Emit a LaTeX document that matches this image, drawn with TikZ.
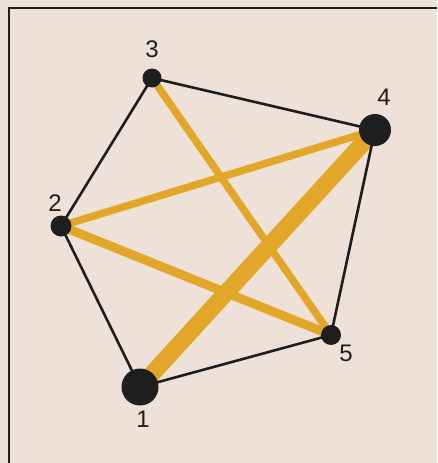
\documentclass[tikz,border=0pt]{standalone}
\usepackage{fontspec}
\setmainfont{Liberation Sans}
\definecolor{paper}{HTML}{EEE1D7}
\definecolor{amber}{HTML}{E2A628}
\definecolor{ink}{HTML}{1E1E1E}
\pgfdeclarelayer{back}
\pgfdeclarelayer{mid}
\pgfsetlayers{back,mid,main}
\begin{document}
\begin{tikzpicture}[x=1pt,y=-1pt,
  vtx/.style={circle,fill=ink,inner sep=0pt},
  lbl/.style={font=\fontsize{24}{24}\selectfont,text=ink,inner sep=0pt},
  rim/.style={draw=ink,line width=2.2pt},
  link/.style={draw=amber},
  side/.style={draw=ink,line width=2.6pt}]
\useasboundingbox (0,0) rectangle (437,463);
\begin{pgfonlayer}{back}
\fill[paper] (0,0) rectangle (437,463);
\end{pgfonlayer}
\coordinate (fa) at (437,8);
\coordinate (fb) at (9,8);
\coordinate (fc) at (9,463);
\draw[rim] (fa) -- (fb) -- (fc);
\node[vtx,minimum size=37pt] (n1) at (140,387) {};
\node[vtx,minimum size=21pt] (n2) at (61,226) {};
\node[vtx,minimum size=19pt] (n3) at (152,78) {};
\node[vtx,minimum size=32pt] (n4) at (375,130) {};
\node[vtx,minimum size=20pt] (n5) at (331,335) {};
\node[lbl] (t1) at (143,419) {1};
\node[lbl] (t2) at (55,203) {2};
\node[lbl] (t3) at (152,49) {3};
\node[lbl] (t4) at (384,97) {4};
\node[lbl] (t5) at (346,353) {5};
\begin{pgfonlayer}{mid}
\draw[link,line width=7.5pt] (n3.center) -- (n5.center);
\draw[link,line width=7.5pt] (n2.center) -- (n4.center);
\draw[link,line width=9pt] (n2.center) -- (n5.center);
\draw[link,line width=17pt] (n1.center) -- (n4.center);
\draw[side] (n1.center) -- (n2.center) -- (n3.center) -- (n4.center) -- (n5.center) -- (n1.center);
\end{pgfonlayer}
\end{tikzpicture}
\end{document}
